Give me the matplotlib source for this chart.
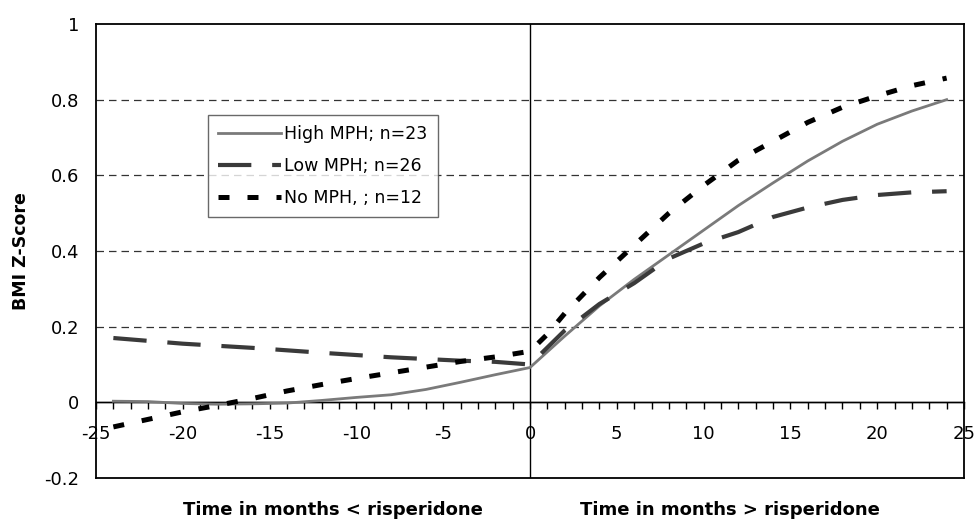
import matplotlib
matplotlib.use("Agg")
import matplotlib.pyplot as plt

plt.rcParams["font.family"] = ["DejaVu Sans"]
plt.rcParams["axes.unicode_minus"] = False

# months relative to start of risperidone
months_high = [-24, -22, -20, -18, -16, -14, -12, -10, -8, -6, -4, -2, 0,
               2, 4, 6, 8, 10, 12, 14, 16, 18, 20, 22, 24]
high_mph = [0.003, 0.002, -0.003, -0.005, -0.004, -0.002, 0.005, 0.013, 0.02,
            0.034, 0.053, 0.073, 0.092,
            0.175, 0.255, 0.325, 0.39, 0.455, 0.52, 0.58, 0.638, 0.69, 0.735, 0.77, 0.8]

months_low = [-24, -20, -16, -12, -8, -4, -2, 0,
              2, 4, 6, 8, 10, 12, 14, 16, 18, 20, 22, 24]
low_mph = [0.17, 0.155, 0.144, 0.131, 0.119, 0.11, 0.107, 0.10,
           0.19, 0.26, 0.315, 0.38, 0.42, 0.45, 0.49, 0.515, 0.535, 0.548, 0.555, 0.558]

months_no = [-24, -22, -20, -18, -16, -14, -12, -10, -8, -6, -4, -2, 0,
             1, 2, 4, 6, 8, 10, 12, 14, 16, 18, 20, 22, 24]
no_mph = [-0.065, -0.045, -0.025, -0.008, 0.01, 0.03, 0.047, 0.063, 0.078, 0.093,
          0.108, 0.12, 0.135,
          0.18, 0.235, 0.33, 0.415, 0.5, 0.573, 0.64, 0.69, 0.74, 0.78, 0.81, 0.837, 0.857]

labels = ["High MPH; n=23", "Low MPH; n=26", "No MPH, ; n=12"]

fig = plt.figure(figsize=(9.74, 5.21), dpi=100)
ax = fig.add_axes([96 / 974, 43 / 521, 868 / 974, 454 / 521])

ax.set_xlim(-25, 25)
ax.set_ylim(-0.2, 1)

for y in [0.2, 0.4, 0.6, 0.8]:
    ax.axhline(y, color="#333333", lw=0.9, ls=(0, (6, 4)), zorder=1)
ax.axhline(0, color="black", lw=1, zorder=1)
ax.axvline(0, color="black", lw=1, zorder=1)

ax.plot(months_high, high_mph, color="#7a7a7a", lw=2.0, label=labels[0], zorder=3)
ax.plot(months_low, low_mph, color="#3a3a3a", lw=3.0, ls=(0, (8, 5)), label=labels[1], zorder=3)
ax.plot(months_no, no_mph, color="black", lw=3.6, ls=(0, (2.2, 3.6)), label=labels[2], zorder=3)

for s in ax.spines.values():
    s.set_linewidth(1.3)

ax.set_yticks([-0.2, 0, 0.2, 0.4, 0.6, 0.8, 1])
ax.set_yticklabels(["-0.2", "0", "0.2", "0.4", "0.6", "0.8", "1"])
ax.tick_params(axis="y", length=0, pad=12, labelsize=13)
ax.set_xticks([])

# x axis drawn along y = 0
sec = ax.secondary_xaxis(0.2 / 1.2)
sec.set_xticks([-25, -20, -15, -10, -5, 0, 5, 10, 15, 20, 25])
sec.set_xticks(range(-24, 25), minor=True)
sec.tick_params(axis="x", which="both", direction="out", length=5, width=1,
                labelsize=13, pad=11)
sec.spines["bottom"].set_linewidth(1)

leg = ax.legend(loc="upper left", bbox_to_anchor=(0.129, 0.80), borderaxespad=0,
                fontsize=12.5, handlelength=3.6, handletextpad=0.2,
                fancybox=False, frameon=True, borderpad=0.6, labelspacing=0.8)
leg.get_frame().set_edgecolor("#444444")
leg.get_frame().set_linewidth(1)

fig.text(21 / 974, 1 - 251 / 521, "BMI Z-Score", rotation=90, ha="center", va="center",
         fontsize=12.5, fontweight="bold")
fig.text(333 / 974, 1 - 510 / 521, "Time in months < risperidone", ha="center", va="center",
         fontsize=13, fontweight="bold")
fig.text(730 / 974, 1 - 510 / 521, "Time in months > risperidone", ha="center", va="center",
         fontsize=13, fontweight="bold")

fig.savefig("out.png", dpi=100)
